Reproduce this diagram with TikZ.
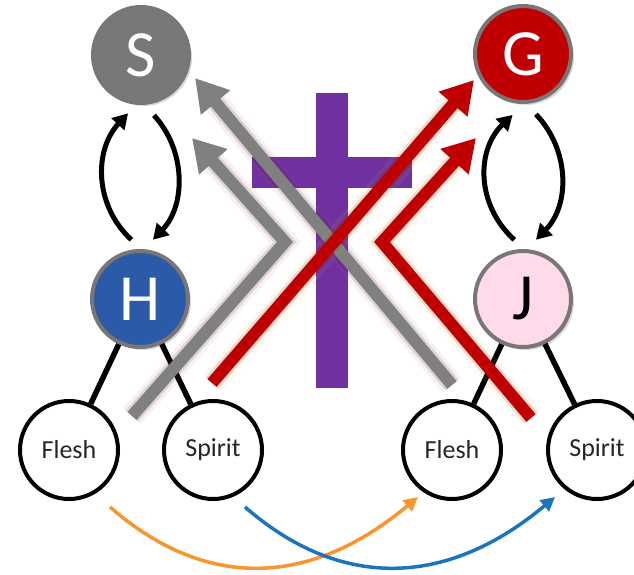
\documentclass[tikz,border=0pt]{standalone}
\usepackage{fontspec}
\setmainfont{Carlito}
\usetikzlibrary{arrows.meta, shadows, calc}
\definecolor{ringgray}{HTML}{7A7676}
\definecolor{sgray}{HTML}{787878}
\definecolor{gred}{HTML}{C00000}
\definecolor{hblue}{HTML}{2B5AA8}
\definecolor{jpink}{HTML}{FFDAEA}
\definecolor{crosspurple}{HTML}{7030A0}
\definecolor{arrowgray}{HTML}{808080}
\definecolor{fleshorange}{HTML}{F7962F}
\definecolor{spiritblue}{HTML}{1B75BC}
\definecolor{pinkglow}{HTML}{C2587E}
\definecolor{goldglow}{HTML}{F2B24A}
\tikzstyle{person} = [circle, draw=ringgray, line width=4pt, minimum size=96pt, inner sep=0pt, text=white, font=\fontsize{66}{66}\selectfont, drop shadow={opacity=0.3, shadow xshift=3pt, shadow yshift=-3pt}]
\tikzstyle{part} = [circle, draw=black, line width=4pt, minimum size=98pt, inner sep=0pt, fill=white, text=black!85, font=\fontsize{26}{26}\selectfont]
\tikzstyle{tie} = [line width=5.5pt]
\tikzstyle{swap} = [line width=5pt, -{Triangle[length=15pt, width=17pt]}]

\begin{document}
\begin{tikzpicture}[x=1pt, y=-1pt,
		fat/.style={line width=12pt, -{Triangle[length=32pt, width=36pt]}},
		glow/.style={line width=24pt, opacity=0.09, shorten >=30pt, preaction={draw, line width=17pt, opacity=0.12}},
		curve/.style={line width=3.5pt, -{Triangle[length=14pt, width=14pt]}}]
	\useasboundingbox (0,0) rectangle (634,575);

	\fill[crosspurple] (316,93) rectangle (348,388);
	\fill[crosspurple] (252,157) rectangle (412,188);

	\node (S) [person, fill=sgray] at (141,55) {S};
	\node (G) [person, fill=gred] at (523,54) {G};
	\node (H) [person, fill=hblue] at (140,299) {H};
	\node (J) [person, fill=jpink, text=black] at (523,299) {J};

	\node (fleshL) [part] at (69,450) {Flesh};
	\node (spiritL) [part] at (213,450) {Spirit};
	\node (fleshR) [part] at (452,450) {Flesh};
	\node (spiritR) [part] at (597,450) {Spirit};

	\draw[tie] (H) -- (fleshL);
	\draw[tie] (H) -- (spiritL);
	\draw[tie] (J) -- (fleshR);
	\draw[tie] (J) -- (spiritR);

	\draw[swap] ([yshift=10pt]H.100) .. controls (94,205) and (94,150) .. ([yshift=-10pt]S.255);
	\draw[swap] ([yshift=-12pt]S.285) .. controls (186,150) and (186,205) .. ([yshift=11pt]H.75);
	\draw[swap] ([yshift=10pt]J.100) .. controls (476,205) and (476,150) .. ([yshift=-12pt]G.258);
	\draw[swap] ([yshift=-12pt]G.285) .. controls (570,150) and (570,205) .. ([yshift=11pt]J.75);

	\coordinate (grayFoot) at (452,385);
	\coordinate (grayTip) at (195,78);
	\coordinate (grayBendFoot) at (132,416);
	\coordinate (grayKnee) at (285,242);
	\coordinate (grayBendTip) at (192,138);
	\coordinate (redFoot) at (212,383);
	\coordinate (redTip) at (474,80);
	\coordinate (redBendFoot) at (531,418);
	\coordinate (redKnee) at (382,242);
	\coordinate (redBendTip) at (476,138);

	\draw[glow, pinkglow] (grayFoot) -- (grayTip);
	\draw[fat, arrowgray] (grayFoot) -- (grayTip);
	\draw[glow, pinkglow] (grayBendFoot) -- (grayKnee) -- (grayBendTip);
	\draw[fat, arrowgray] (grayBendFoot) -- (grayKnee) -- (grayBendTip);
	\draw[glow, goldglow] (redFoot) -- (redTip);
	\draw[fat, gred] (redFoot) -- (redTip);
	\draw[glow, goldglow] (redBendFoot) -- (redKnee) -- (redBendTip);
	\draw[fat, gred] (redBendFoot) -- (redKnee) -- (redBendTip);

	\coordinate (fromFlesh) at (110,507);
	\coordinate (fromSpirit) at (245,507);
	\coordinate (toFlesh) at ($(fleshR)+(-34,47)$);
	\coordinate (toSpirit) at ($(spiritR)+(-42,47)$);
	\draw[curve, fleshorange] (fromFlesh) .. controls (204,589) and (308,589) .. (toFlesh);
	\draw[curve, spiritblue] (fromSpirit) .. controls (339,589) and (445,589) .. (toSpirit);
\end{tikzpicture}
\end{document}
